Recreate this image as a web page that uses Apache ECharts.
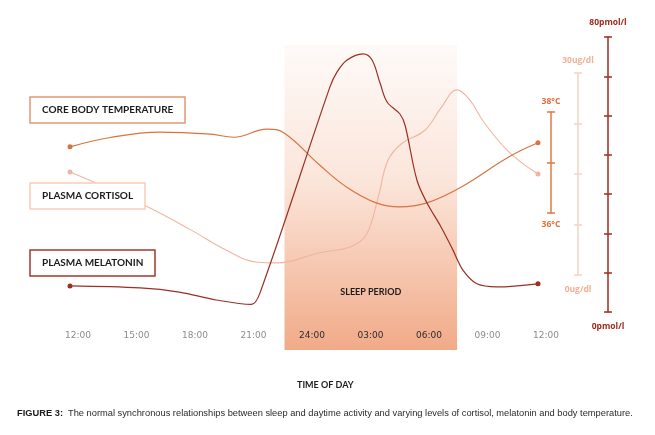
<!DOCTYPE html>
<html><head><meta charset="utf-8">
<script src="https://cdn.jsdelivr.net/npm/echarts@6/dist/echarts.min.js"></script>
<style>html,body{margin:0;padding:0;background:#fff}#c{width:655px;height:435px}</style>
</head><body><div id="c"></div>
<script>
// ---- data (hours after 12:00 noon) ----
const tickLabels = ['12:00','15:00','18:00','21:00','24:00','03:00','06:00','09:00','12:00'];
const sleepPeriod = [11.0, 19.85];

const tempHours  = [0, 2.0, 4.6, 7.2, 8.4, 10.1, 11.0, 12.8, 14.2, 15.7, 16.9, 18.3, 20.0, 22.5, 24];
const tempValues = [37.31, 37.49, 37.60, 37.56, 37.50, 37.66, 37.58, 36.95, 36.51, 36.20, 36.12, 36.20, 36.50, 37.11, 37.39];

const cortHours  = [0, 1.3, 4.0, 6.2, 8.0, 9.6, 10.6, 12.8, 14.4, 15.2, 15.8, 16.3, 17.0, 18.2, 19.0, 19.85, 20.5, 21.2, 22.5, 24];
const cortValues = [15.3, 13.7, 10.1, 6.7, 3.7, 1.9, 1.8, 3.3, 4.2, 6.0, 11.5, 17.0, 19.5, 21.5, 24.7, 27.5, 26.0, 22.8, 18.3, 15.0];

const melHours  = [0, 3.6, 5.6, 7.5, 9.3, 9.74, 13.33, 13.69, 14.21, 15.03, 15.49, 15.9, 16.26, 16.92, 17.18, 17.79, 18.31, 19.0, 19.64, 20.15, 20.87, 21.9, 24];
const melValues = [7.6, 7.0, 5.8, 3.5, 2.2, 5.5, 65.5, 69.8, 73.3, 75.1, 73.3, 66.6, 61.1, 57.6, 54.4, 38.4, 31.7, 25.0, 18.0, 12.2, 8.2, 7.3, 8.2];

const tempRange = [36, 38];
const cortRange = [0, 30];
const melRange  = [0, 80];

// ---- styles ----
const C_TEMP = '#d8743f', C_TEMP_AX = '#e07a42';
const C_CORT = '#efb69e', C_CORT_AX = '#f5d3c4', C_CORT_TX = '#f0b193';
const C_MEL = '#9c2f22', C_MEL_AX = '#9e2c1f';

function pairs(h, v) {
  return h.map((x, i) => {
    const end = (i === 0 || i === h.length - 1);
    return { value: [x, v[i]], symbolSize: end ? 5 : 0 };
  });
}

const chart = echarts.init(document.getElementById('c'));
const G = { left: 70, right: 117 };
const hiddenX = (gi) => ({ gridIndex: gi, type: 'value', min: 0, max: 24, show: false });

function yPair(gi, range, interval, offset, color, topName, botName, nameColor, gapTop, gapBot) {
  const nts = { color: nameColor, fontSize: 8.5, fontWeight: 'bold', fontFamily: 'Open Sans', align: 'center' };
  const base = { type: 'value', position: 'right', offset: offset, min: range[0], max: range[1], interval: interval,
    axisLabel: { show: false }, splitLine: { show: false } };
  return [
    Object.assign({}, base, { gridIndex: gi, axisLine: { show: true, onZero: false, lineStyle: { color: color, width: 1.5 } },
      axisTick: { show: true, length: 4, lineStyle: { color: color, width: 1.5 } },
      name: topName, nameLocation: 'end', nameGap: gapTop, nameTextStyle: nts }),
    Object.assign({}, base, { gridIndex: gi + 1, axisLine: { show: false, onZero: false },
      axisTick: { show: true, inside: true, length: 4, lineStyle: { color: color, width: 1.5 } },
      name: botName, nameLocation: 'start', nameGap: gapBot, nameTextStyle: nts })
  ];
}

const legendBox = (text, top, border) => ({
  text: text, left: 30, top: top, padding: [8, 12, 8, 12], borderColor: border, borderWidth: 1.5, backgroundColor: '#fff',
  textStyle: { fontSize: 10, lineHeight: 10, fontWeight: 'bold', color: '#1c1c1c', fontFamily: 'Lato' }
});

chart.setOption({
  animation: false,
  backgroundColor: '#fff',
  title: [
    legendBox('CORE BODY TEMPERATURE', 97, '#e39673'),
    legendBox('PLASMA CORTISOL', 183, '#f6cdb9'),
    legendBox('PLASMA MELATONIN', 250, '#a23a2d'),
    { text: 'TIME OF DAY', left: 297, top: 381, padding: 0,
      textStyle: { fontSize: 9, fontWeight: 'bold', color: '#1c1c1c', fontFamily: 'Lato' } },
    { text: '{b|FIGURE 3:} {n|The normal synchronous relationships between sleep and daytime activity and varying levels of cortisol, melatonin and body temperature.}',
      left: 17, top: 404, padding: 0,
      textStyle: { fontWeight: 'normal', rich: {
        b: { fontSize: 9.3, fontWeight: 'bold', color: '#1c1c1c', fontFamily: 'Liberation Sans' },
        n: { fontSize: 9.3, fontWeight: 'normal', color: '#2a2a2a', fontFamily: 'Liberation Sans' } } } }
  ],
  grid: [
    Object.assign({ top: 45, bottom: 85 }, G),
    Object.assign({ top: 112, height: 101 }, G),
    Object.assign({ top: 112, height: 101 }, G),
    Object.assign({ top: 73, height: 202 }, G),
    Object.assign({ top: 73, height: 202 }, G),
    Object.assign({ top: 37, height: 275 }, G),
    Object.assign({ top: 37, height: 275 }, G)
  ],
  xAxis: [
    { gridIndex: 0, type: 'value', min: 0, max: 24, interval: 3, z: 10,
      axisLine: { show: false }, axisTick: { show: false }, splitLine: { show: false },
      axisLabel: { inside: true, margin: 10, fontSize: 9, fontFamily: 'DejaVu Sans', padding: [0, 0, 0, 16],
        formatter: (v) => tickLabels[Math.round(v / 3)],
        color: (v) => { const n = Number(v); return (n >= 12 && n <= 18) ? '#2b2b2b' : '#8c8c8c'; } } },
    hiddenX(1), hiddenX(2), hiddenX(3), hiddenX(4), hiddenX(5), hiddenX(6)
  ],
  yAxis: [
    { gridIndex: 0, type: 'value', min: 0, max: 1, show: false }
  ].concat(
    yPair(1, tempRange, 1, 13, C_TEMP_AX, '38°C', '36°C', '#e0703a', 6, 7),
    yPair(3, cortRange, 7.5, 40, C_CORT_AX, '30ug/dl', '0ug/dl', C_CORT_TX, 8, 10),
    yPair(5, melRange, 80 / 7, 70, C_MEL_AX, '80pmol/l', '0pmol/l', '#a3281d', 10, 10)
  ),
  series: [
    { type: 'line', xAxisIndex: 0, yAxisIndex: 0, data: [], silent: true,
      markArea: { silent: true,
        itemStyle: { color: new echarts.graphic.LinearGradient(0, 0, 0, 1, [
          { offset: 0, color: '#fefaf8' }, { offset: 0.45, color: '#fbe5da' }, { offset: 1, color: '#f1aa88' }]) },
        label: { show: true, position: 'insideBottom', distance: 53, color: '#1c1c1c', fontSize: 9, fontWeight: 'bold', fontFamily: 'Lato' },
        data: [[{ name: 'SLEEP PERIOD', xAxis: sleepPeriod[0] }, { xAxis: sleepPeriod[1] }]] } },
    { name: 'Plasma Cortisol', type: 'line', xAxisIndex: 3, yAxisIndex: 3, data: pairs(cortHours, cortValues),
      smooth: 0.4, symbol: 'circle', showAllSymbol: true, z: 3,
      lineStyle: { color: C_CORT, width: 1.1 }, itemStyle: { color: C_CORT } },
    { name: 'Core Body Temperature', type: 'line', xAxisIndex: 1, yAxisIndex: 1, data: pairs(tempHours, tempValues),
      smooth: 0.4, symbol: 'circle', showAllSymbol: true, z: 4,
      lineStyle: { color: C_TEMP, width: 1.2 }, itemStyle: { color: C_TEMP } },
    { name: 'Plasma Melatonin', type: 'line', xAxisIndex: 5, yAxisIndex: 5, data: pairs(melHours, melValues),
      smooth: 0.35, symbol: 'circle', showAllSymbol: true, z: 5,
      lineStyle: { color: C_MEL, width: 1.2 }, itemStyle: { color: C_MEL } }
  ]
});
</script></body></html>
